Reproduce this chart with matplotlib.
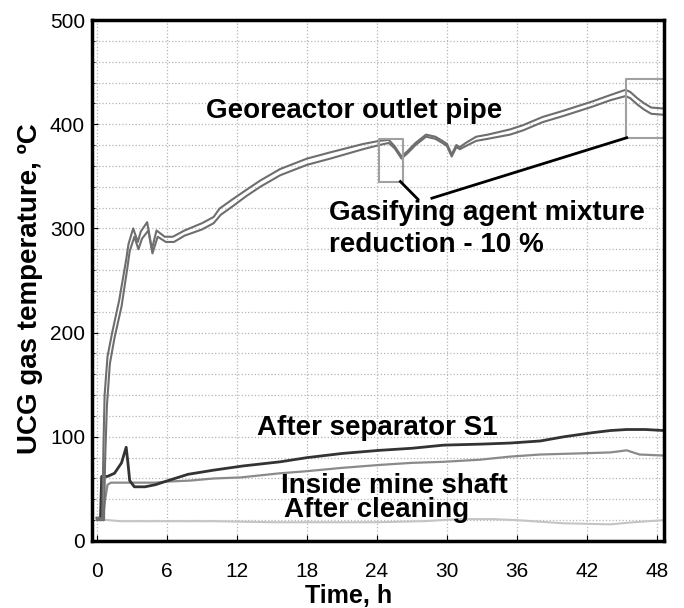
import matplotlib
matplotlib.use("Agg")
import matplotlib.pyplot as plt
from matplotlib.ticker import MultipleLocator

plt.rcParams['font.family'] = ['Liberation Sans', 'DejaVu Sans']

# Georeactor outlet pipe - two thermocouples (upper / lower trace)
geo_t = [0, 0.45, 0.55, 0.65, 0.9, 1.3, 1.9, 2.5, 2.7, 3.1, 3.5, 3.75, 4.3, 4.7, 5.1, 5.8, 6.5, 7.5,
         9.0, 10.0, 10.5, 11.5, 12.8, 14.0, 15.7, 18.0, 20.0, 22.8, 24.2, 25.0, 25.5, 26.1, 26.6,
         27.3, 28.2, 29.0, 29.6, 30.0, 30.4, 30.8, 31.1, 31.6, 32.5, 33.5, 35.4, 36.5, 38.2, 40.0,
         42.5, 44.0, 45.3, 45.7, 46.3, 46.9, 47.5, 48.6]
geo_a = [22, 22, 90, 140, 177, 200, 231, 270, 285, 300, 287, 297, 306, 280, 298, 292, 292, 298,
         305, 311, 319, 327, 337, 346, 357, 367, 373, 381, 384, 385, 379, 369, 374,
         382, 390, 388, 384, 381, 371, 380, 378, 382, 388, 390, 395, 399, 407, 413,
         422, 428, 433, 431, 425, 420, 416, 415]
geo_t2 = [0, 0.6, 0.7, 0.85, 1.1, 1.5, 2.1, 2.6, 2.8, 3.2, 3.55, 3.85, 4.4, 4.75, 5.2, 5.9, 6.6, 7.5,
          9.0, 10.0, 10.6, 11.6, 12.8, 14.0, 15.7, 18.0, 20.0, 22.8, 24.2, 25.0, 25.5, 26.1, 26.6,
          27.3, 28.2, 29.0, 29.6, 30.0, 30.4, 30.8, 31.1, 31.6, 32.5, 33.5, 35.4, 36.5, 38.2, 40.0,
          42.5, 44.0, 45.3, 45.7, 46.3, 46.9, 47.5, 48.6]
geo_b = [20, 20, 80, 130, 170, 195, 225, 262, 278, 292, 280, 290, 298, 276, 292, 287, 287, 293,
         299, 305, 313, 321, 331, 340, 351, 361, 367, 376, 380, 382, 377, 367, 372,
         380, 388, 386, 382, 379, 369, 378, 376, 379, 384, 386, 390, 394, 402, 408,
         417, 423, 427, 425, 419, 414, 410, 409]

# After separator S1
sep_t = [0, 0.3, 0.4, 0.9, 1.5, 2.1, 2.5, 2.65, 2.8, 3.2, 4.1, 5.0, 6.1, 7.8, 10.0, 12.5, 15.7, 18.0,
         21.0, 24.2, 27.0, 29.7, 33.0, 35.4, 38.0, 40.0, 42.5, 44.0, 45.4, 47.0, 48.6]
sep_v = [22, 22, 62, 62, 65, 75, 90, 75, 58, 52, 52, 54, 58, 64, 68, 72, 76, 80,
         84, 87, 89, 92, 93, 94, 96, 100, 104, 106, 107, 107, 106]

# Inside mine shaft
shaft_t = [0, 0.5, 0.7, 0.9, 1.2, 3.0, 5.0, 6.0, 8.0, 10.0, 12.3, 15.7, 18.0, 20.8, 24.2, 27.0,
           29.7, 32.8, 35.4, 38.0, 41.1, 44.0, 45.4, 46.5, 48.6]
shaft_v = [22, 22, 40, 54, 56, 56, 56, 57, 58, 60, 61, 65, 67, 70, 73, 75,
           76, 78, 81, 83, 84, 85, 87, 83, 82]

# After cleaning
clean_t = [0, 2, 5, 10, 15, 20, 24, 28, 31, 34, 36, 40, 44, 46, 48.6]
clean_v = [21, 19, 19, 19, 18, 18, 18, 19, 21, 21, 20, 17, 16, 18, 20]

# boxes marking the 10 % reduction of the gasifying agent (t0, t1, v0, v1)
box1 = (24.2, 26.2, 345, 385.5)
box2 = (45.3, 48.6, 386.5, 443)
call1 = ([26.0, 27.5], [345, 328])
call2 = ([28.7, 45.4], [329, 387])

fig = plt.figure(figsize=(6.84, 6.08), dpi=100)
ax = fig.add_axes([0.1345, 0.1102, 0.8363, 0.8569])

ax.plot(clean_t, clean_v, color='#c4c4c4', lw=1.5)
ax.plot(shaft_t, shaft_v, color='#8a8a8a', lw=1.6)
ax.plot(sep_t, sep_v, color='#333333', lw=2)
ax.plot(geo_t, geo_a, color='#6e6e6e', lw=1.5)
ax.plot(geo_t2, geo_b, color='#6e6e6e', lw=1.5)

for t0, t1, v0, v1 in [box1, box2]:
    ax.plot([t0, t1, t1, t0, t0], [v0, v0, v1, v1, v0], color='#a0a0a0', lw=1.5)
for xs, ys in [call1, call2]:
    ax.plot(xs, ys, color='black', lw=2)

ax.set_xlim(-0.43, 48.6)
ax.set_ylim(0, 500)
ax.xaxis.set_major_locator(MultipleLocator(6))
ax.yaxis.set_major_locator(MultipleLocator(100))
ax.yaxis.set_minor_locator(MultipleLocator(20))
ax.grid(True, which='major', axis='x', ls=':', color='#b5b5b5', lw=0.9)
ax.grid(True, which='both', axis='y', ls=':', color='#b5b5b5', lw=0.9)

for s in ax.spines.values():
    s.set_linewidth(2.5)
ax.tick_params(axis='both', which='both', direction='in', labelsize=15)
ax.tick_params(axis='x', which='major', length=4, pad=15)
ax.tick_params(axis='y', which='major', length=4, pad=5)
ax.tick_params(axis='y', which='minor', length=2)
ax.yaxis.get_major_ticks()[0].label1.set_verticalalignment('bottom')

ax.set_xlabel('Time, h', fontsize=18, fontweight='bold')
ax.set_ylabel('UCG gas temperature, ºC', fontsize=20, fontweight='bold')
ax.xaxis.set_label_coords(0.449, -0.083)
ax.yaxis.set_label_coords(-0.085, 0.484)

tk = dict(fontsize=20, fontweight='bold', va='baseline', ha='left')
ax.text(9.34, 406, 'Georeactor outlet pipe', **tk)
ax.text(19.9, 308, 'Gasifying agent mixture', **tk)
ax.text(19.9, 277, 'reduction - 10 %', **tk)
ax.text(13.7, 101.7, 'After separator S1', **tk)
ax.text(15.8, 46, 'Inside mine shaft', **tk)
ax.text(16.0, 23.3, 'After cleaning', **tk)

fig.savefig('out.png', dpi=100)
